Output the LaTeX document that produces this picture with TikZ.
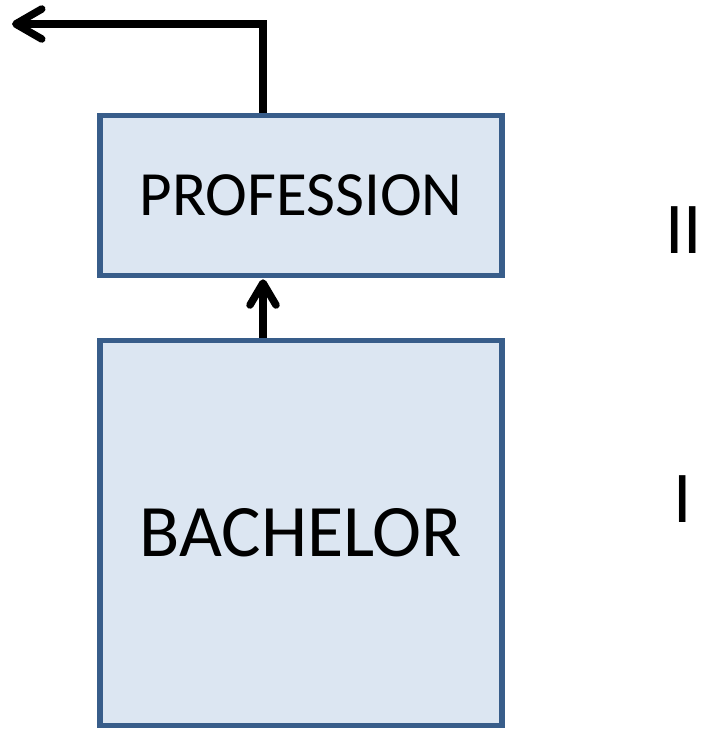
\documentclass[tikz,border=0pt]{standalone}
\usepackage{fontspec}
\setmainfont{Carlito}
\usetikzlibrary{arrows.meta}
\definecolor{boxfill}{RGB}{220,230,242}
\definecolor{boxline}{RGB}{56,93,138}
\begin{document}
\begin{tikzpicture}[x=1pt,y=-1pt,
  blockbox/.style={draw=boxline, fill=boxfill, line width=5.5pt, minimum width=402pt, inner sep=0pt},
  conn/.style={line width=7.5pt, line join=miter},
  lvl/.style={anchor=base west, inner sep=0pt, font=\fontsize{73}{80}\selectfont}]
\useasboundingbox (0,0) rectangle (703,730);
\fill[white] (0,0) rectangle (703,730);
\node[blockbox, minimum height=160pt, font=\fontsize{63}{70}\selectfont] (prof) at (301,195.5) {PROFESSION};
\node[blockbox, minimum height=385pt, font=\fontsize{74}{80}\selectfont] (bach) at (301,533) {BACHELOR};
\coordinate (ax) at (263,0);
\coordinate (out) at (12,24);
\draw[conn, -{Straight Barb[length=22pt,width=26pt,round]}] (bach.north -| ax) -- ([yshift=-1pt]prof.south -| ax);
\draw[conn, -{Straight Barb[length=26pt,width=30pt,round]}] (prof.north -| ax) |- (out);
\node[lvl] (two) at (665,253) {II};
\node[lvl] (one) at (673,522) {I};
\end{tikzpicture}
\end{document}
